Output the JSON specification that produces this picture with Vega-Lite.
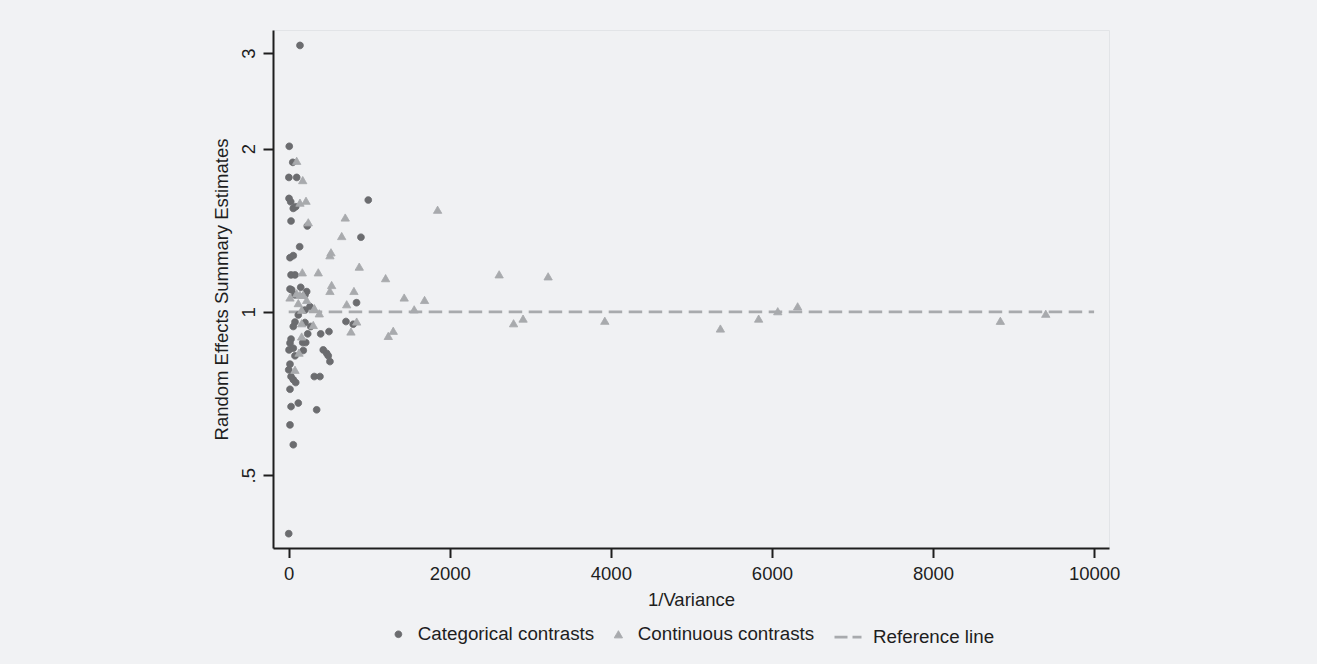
{
  "$schema": "https://vega.github.io/schema/vega-lite/v6.json",
  "width": 836,
  "height": 518,
  "autosize": {"type": "none"},
  "padding": {"left": 273, "top": 30, "right": 208, "bottom": 116},
  "background": "#f1f2f4",
  "config": {
    "font": "Liberation Sans",
    "view": {"stroke": "#e2e4e7", "strokeWidth": 1, "fill": "#f0f1f3"},
    "axis": {
      "grid": false,
      "domainColor": "#1e1e1e",
      "domainWidth": 2,
      "tickColor": "#1e1e1e",
      "tickWidth": 2,
      "labelFont": "Liberation Sans",
      "labelFontSize": 18.5,
      "labelColor": "#1e1e1e",
      "titleFont": "Liberation Sans",
      "titleFontSize": 18.5,
      "titleFontWeight": "normal",
      "titleColor": "#1e1e1e"
    },
    "legend": {
      "orient": "none",
      "legendX": 116,
      "legendY": 592,
      "direction": "horizontal",
      "labelFont": "Liberation Sans",
      "labelFontSize": 18.8,
      "labelColor": "#1e1e1e",
      "labelLimit": 500,
      "labelOffset": 10,
      "columnPadding": 14,
      "symbolOpacity": 1
    }
  },
  "layer": [
    {
      "data": {"values": [{"x_start": 0, "x_end": 10000, "ref": 1}]},
      "mark": {"type": "rule", "strokeDash": [13.5, 6.5], "strokeWidth": 2.6, "color": "#a8aaad"},
      "encoding": {
        "x": {"field": "x_start", "type": "quantitative"},
        "x2": {"field": "x_end"},
        "y": {"field": "ref", "type": "quantitative"}
      }
    },
    {
      "data": {
        "values": [
          {"inv_var": 140, "estimate": 3.10, "series": "Categorical contrasts"},
          {"inv_var": 7, "estimate": 2.02, "series": "Categorical contrasts"},
          {"inv_var": 50, "estimate": 1.887, "series": "Categorical contrasts"},
          {"inv_var": 2, "estimate": 1.77, "series": "Categorical contrasts"},
          {"inv_var": 99, "estimate": 1.77, "series": "Categorical contrasts"},
          {"inv_var": 4, "estimate": 1.619, "series": "Categorical contrasts"},
          {"inv_var": 25, "estimate": 1.596, "series": "Categorical contrasts"},
          {"inv_var": 57, "estimate": 1.552, "series": "Categorical contrasts"},
          {"inv_var": 87, "estimate": 1.563, "series": "Categorical contrasts"},
          {"inv_var": 988, "estimate": 1.608, "series": "Categorical contrasts"},
          {"inv_var": 29, "estimate": 1.471, "series": "Categorical contrasts"},
          {"inv_var": 231, "estimate": 1.44, "series": "Categorical contrasts"},
          {"inv_var": 897, "estimate": 1.373, "series": "Categorical contrasts"},
          {"inv_var": 136, "estimate": 1.319, "series": "Categorical contrasts"},
          {"inv_var": 16, "estimate": 1.259, "series": "Categorical contrasts"},
          {"inv_var": 57, "estimate": 1.27, "series": "Categorical contrasts"},
          {"inv_var": 29, "estimate": 1.17, "series": "Categorical contrasts"},
          {"inv_var": 78, "estimate": 1.17, "series": "Categorical contrasts"},
          {"inv_var": 16, "estimate": 1.102, "series": "Categorical contrasts"},
          {"inv_var": 37, "estimate": 1.098, "series": "Categorical contrasts"},
          {"inv_var": 149, "estimate": 1.11, "series": "Categorical contrasts"},
          {"inv_var": 223, "estimate": 1.09, "series": "Categorical contrasts"},
          {"inv_var": 78, "estimate": 1.075, "series": "Categorical contrasts"},
          {"inv_var": 202, "estimate": 1.075, "series": "Categorical contrasts"},
          {"inv_var": 264, "estimate": 1.023, "series": "Categorical contrasts"},
          {"inv_var": 202, "estimate": 1.008, "series": "Categorical contrasts"},
          {"inv_var": 119, "estimate": 0.987, "series": "Categorical contrasts"},
          {"inv_var": 78, "estimate": 0.958, "series": "Categorical contrasts"},
          {"inv_var": 202, "estimate": 0.956, "series": "Categorical contrasts"},
          {"inv_var": 57, "estimate": 0.94, "series": "Categorical contrasts"},
          {"inv_var": 273, "estimate": 0.94, "series": "Categorical contrasts"},
          {"inv_var": 711, "estimate": 0.96, "series": "Categorical contrasts"},
          {"inv_var": 801, "estimate": 0.949, "series": "Categorical contrasts"},
          {"inv_var": 842, "estimate": 1.04, "series": "Categorical contrasts"},
          {"inv_var": 236, "estimate": 0.911, "series": "Categorical contrasts"},
          {"inv_var": 397, "estimate": 0.911, "series": "Categorical contrasts"},
          {"inv_var": 500, "estimate": 0.92, "series": "Categorical contrasts"},
          {"inv_var": 29, "estimate": 0.891, "series": "Categorical contrasts"},
          {"inv_var": 16, "estimate": 0.876, "series": "Categorical contrasts"},
          {"inv_var": 174, "estimate": 0.878, "series": "Categorical contrasts"},
          {"inv_var": 211, "estimate": 0.878, "series": "Categorical contrasts"},
          {"inv_var": 4, "estimate": 0.851, "series": "Categorical contrasts"},
          {"inv_var": 57, "estimate": 0.857, "series": "Categorical contrasts"},
          {"inv_var": 181, "estimate": 0.849, "series": "Categorical contrasts"},
          {"inv_var": 78, "estimate": 0.83, "series": "Categorical contrasts"},
          {"inv_var": 429, "estimate": 0.851, "series": "Categorical contrasts"},
          {"inv_var": 471, "estimate": 0.839, "series": "Categorical contrasts"},
          {"inv_var": 491, "estimate": 0.83, "series": "Categorical contrasts"},
          {"inv_var": 512, "estimate": 0.81, "series": "Categorical contrasts"},
          {"inv_var": 16, "estimate": 0.801, "series": "Categorical contrasts"},
          {"inv_var": 0, "estimate": 0.782, "series": "Categorical contrasts"},
          {"inv_var": 29, "estimate": 0.76, "series": "Categorical contrasts"},
          {"inv_var": 57, "estimate": 0.75, "series": "Categorical contrasts"},
          {"inv_var": 87, "estimate": 0.741, "series": "Categorical contrasts"},
          {"inv_var": 318, "estimate": 0.76, "series": "Categorical contrasts"},
          {"inv_var": 388, "estimate": 0.76, "series": "Categorical contrasts"},
          {"inv_var": 16, "estimate": 0.72, "series": "Categorical contrasts"},
          {"inv_var": 29, "estimate": 0.669, "series": "Categorical contrasts"},
          {"inv_var": 119, "estimate": 0.679, "series": "Categorical contrasts"},
          {"inv_var": 347, "estimate": 0.66, "series": "Categorical contrasts"},
          {"inv_var": 16, "estimate": 0.619, "series": "Categorical contrasts"},
          {"inv_var": 57, "estimate": 0.569, "series": "Categorical contrasts"},
          {"inv_var": 0, "estimate": 0.39, "series": "Categorical contrasts"},
          {"inv_var": 99, "estimate": 1.899, "series": "Continuous contrasts"},
          {"inv_var": 174, "estimate": 1.75, "series": "Continuous contrasts"},
          {"inv_var": 140, "estimate": 1.59, "series": "Continuous contrasts"},
          {"inv_var": 215, "estimate": 1.603, "series": "Continuous contrasts"},
          {"inv_var": 243, "estimate": 1.463, "series": "Continuous contrasts"},
          {"inv_var": 702, "estimate": 1.493, "series": "Continuous contrasts"},
          {"inv_var": 658, "estimate": 1.38, "series": "Continuous contrasts"},
          {"inv_var": 1849, "estimate": 1.543, "series": "Continuous contrasts"},
          {"inv_var": 525, "estimate": 1.288, "series": "Continuous contrasts"},
          {"inv_var": 512, "estimate": 1.272, "series": "Continuous contrasts"},
          {"inv_var": 876, "estimate": 1.212, "series": "Continuous contrasts"},
          {"inv_var": 169, "estimate": 1.183, "series": "Continuous contrasts"},
          {"inv_var": 367, "estimate": 1.183, "series": "Continuous contrasts"},
          {"inv_var": 1203, "estimate": 1.154, "series": "Continuous contrasts"},
          {"inv_var": 2613, "estimate": 1.173, "series": "Continuous contrasts"},
          {"inv_var": 3221, "estimate": 1.163, "series": "Continuous contrasts"},
          {"inv_var": 533, "estimate": 1.121, "series": "Continuous contrasts"},
          {"inv_var": 512, "estimate": 1.093, "series": "Continuous contrasts"},
          {"inv_var": 810, "estimate": 1.093, "series": "Continuous contrasts"},
          {"inv_var": 1434, "estimate": 1.063, "series": "Continuous contrasts"},
          {"inv_var": 1687, "estimate": 1.052, "series": "Continuous contrasts"},
          {"inv_var": 720, "estimate": 1.033, "series": "Continuous contrasts"},
          {"inv_var": 1558, "estimate": 1.011, "series": "Continuous contrasts"},
          {"inv_var": 380, "estimate": 0.994, "series": "Continuous contrasts"},
          {"inv_var": 2792, "estimate": 0.953, "series": "Continuous contrasts"},
          {"inv_var": 2910, "estimate": 0.972, "series": "Continuous contrasts"},
          {"inv_var": 3925, "estimate": 0.963, "series": "Continuous contrasts"},
          {"inv_var": 5360, "estimate": 0.932, "series": "Continuous contrasts"},
          {"inv_var": 5835, "estimate": 0.972, "series": "Continuous contrasts"},
          {"inv_var": 6072, "estimate": 1.003, "series": "Continuous contrasts"},
          {"inv_var": 6319, "estimate": 1.024, "series": "Continuous contrasts"},
          {"inv_var": 8836, "estimate": 0.963, "series": "Continuous contrasts"},
          {"inv_var": 9400, "estimate": 0.992, "series": "Continuous contrasts"},
          {"inv_var": 16, "estimate": 1.063, "series": "Continuous contrasts"},
          {"inv_var": 99, "estimate": 1.082, "series": "Continuous contrasts"},
          {"inv_var": 181, "estimate": 1.075, "series": "Continuous contrasts"},
          {"inv_var": 223, "estimate": 1.052, "series": "Continuous contrasts"},
          {"inv_var": 119, "estimate": 1.038, "series": "Continuous contrasts"},
          {"inv_var": 161, "estimate": 1.009, "series": "Continuous contrasts"},
          {"inv_var": 318, "estimate": 1.016, "series": "Continuous contrasts"},
          {"inv_var": 161, "estimate": 0.953, "series": "Continuous contrasts"},
          {"inv_var": 161, "estimate": 0.901, "series": "Continuous contrasts"},
          {"inv_var": 128, "estimate": 0.841, "series": "Continuous contrasts"},
          {"inv_var": 78, "estimate": 0.782, "series": "Continuous contrasts"},
          {"inv_var": 773, "estimate": 0.92, "series": "Continuous contrasts"},
          {"inv_var": 844, "estimate": 0.96, "series": "Continuous contrasts"},
          {"inv_var": 1298, "estimate": 0.923, "series": "Continuous contrasts"},
          {"inv_var": 1236, "estimate": 0.903, "series": "Continuous contrasts"},
          {"inv_var": 305, "estimate": 0.946, "series": "Continuous contrasts"},
          {"inv_var": 140, "estimate": 1.075, "series": "Continuous contrasts"}
        ]
      },
      "mark": {"type": "point", "filled": true, "opacity": 1},
      "encoding": {
        "x": {
          "field": "inv_var",
          "type": "quantitative",
          "scale": {"domain": [-195, 10185], "nice": false, "zero": false},
          "axis": {
            "title": "1/Variance",
            "values": [0, 2000, 4000, 6000, 8000, 10000],
            "format": "d",
            "tickSize": 9.5,
            "labelPadding": 7,
            "titlePadding": 7
          }
        },
        "y": {
          "field": "estimate",
          "type": "quantitative",
          "scale": {"type": "log", "domain": [0.367, 3.31], "nice": false, "zero": false},
          "axis": {
            "title": "Random Effects Summary Estimates",
            "values": [0.5, 1, 2, 3],
            "labelExpr": "datum.value == 0.5 ? '.5' : format(datum.value, 'd')",
            "labelAngle": 270,
            "labelAlign": "center",
            "labelBaseline": "bottom",
            "tickSize": 10,
            "labelPadding": 5,
            "titlePadding": 8
          }
        },
        "shape": {
          "field": "series",
          "type": "nominal",
          "scale": {
            "domain": ["Categorical contrasts", "Continuous contrasts", "Reference line"],
            "range": ["circle", "triangle-up", "stroke"]
          },
          "legend": {"title": null}
        },
        "color": {
          "field": "series",
          "type": "nominal",
          "scale": {
            "domain": ["Categorical contrasts", "Continuous contrasts", "Reference line"],
            "range": ["#6b6c6f", "#a8aaad", "#a8aaad"]
          },
          "legend": {"title": null}
        },
        "stroke": {
          "field": "series",
          "type": "nominal",
          "scale": {
            "domain": ["Categorical contrasts", "Continuous contrasts", "Reference line"],
            "range": ["#6b6c6f", "#a8aaad", "#a8aaad"]
          },
          "legend": {"title": null}
        },
        "strokeDash": {
          "field": "series",
          "type": "nominal",
          "scale": {
            "domain": ["Categorical contrasts", "Continuous contrasts", "Reference line"],
            "range": [[1, 0], [1, 0], [13, 5]]
          },
          "legend": {"title": null}
        },
        "strokeWidth": {
          "field": "series",
          "type": "nominal",
          "scale": {
            "type": "ordinal",
            "domain": ["Categorical contrasts", "Continuous contrasts", "Reference line"],
            "range": [1, 1, 2.6]
          },
          "legend": {"title": null}
        },
        "size": {
          "field": "series",
          "type": "nominal",
          "scale": {
            "type": "ordinal",
            "domain": ["Categorical contrasts", "Continuous contrasts", "Reference line"],
            "range": [44, 68, 729]
          },
          "legend": {"title": null}
        }
      }
    }
  ]
}
